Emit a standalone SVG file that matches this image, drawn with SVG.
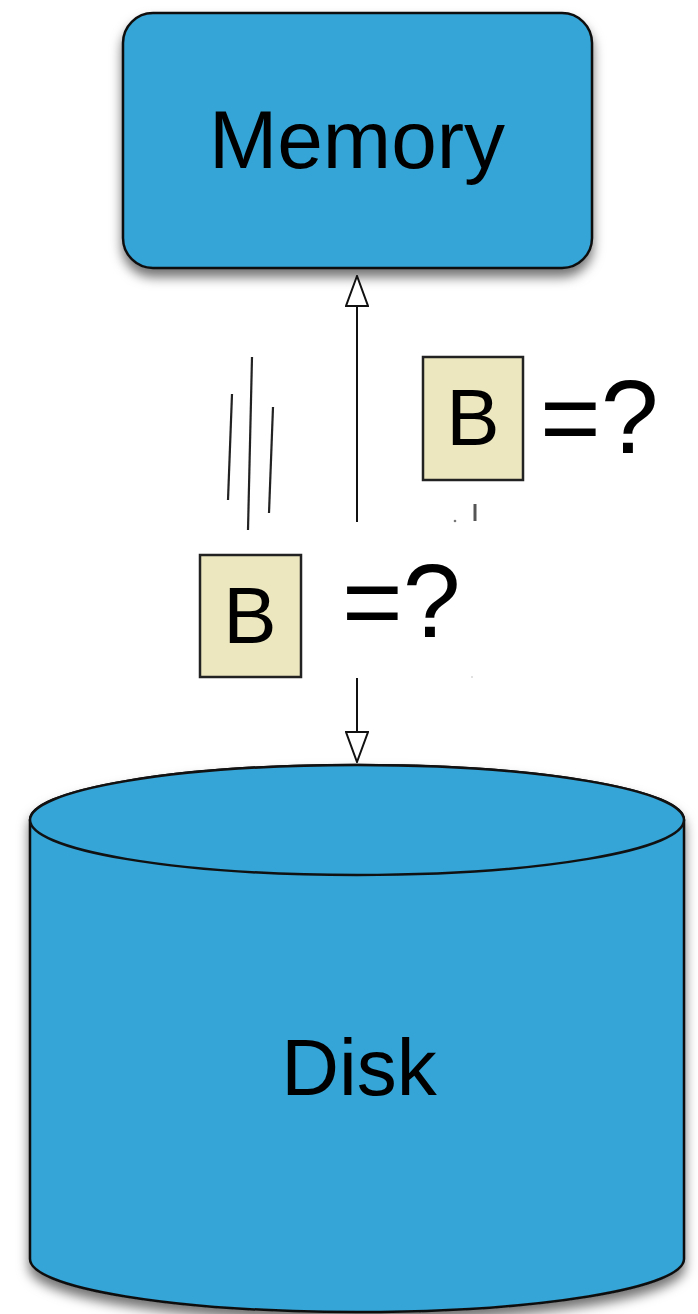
<svg xmlns="http://www.w3.org/2000/svg" width="698" height="1314" viewBox="0 0 698 1314">
<style>
.node{fill:#35A4D6;stroke:#111;stroke-width:2.5}
.lbl{font-family:"Liberation Sans",Arial,sans-serif;font-size:80px;fill:#000;text-anchor:middle}
.big{font-size:82px}
.eq{font-family:"Liberation Sans",Arial,sans-serif;font-size:104px;fill:#000}
.bbox{fill:#EDE7BF;stroke:#222;stroke-width:2.5}
.conn{stroke:#111;stroke-width:2;fill:none}
.mark{stroke:#222;stroke-width:2.2;fill:none}
</style>
<defs>
<filter id="sh" x="-10%" y="-10%" width="120%" height="130%">
<feDropShadow dx="0" dy="8" stdDeviation="6" flood-color="#000" flood-opacity="0.55"/>
</filter>
<marker id="ah" viewBox="0 0 32 24" refX="31" refY="12" markerWidth="32" markerHeight="24" markerUnits="userSpaceOnUse" orient="auto">
<path d="M31,12 L1,1 L1,23 Z" fill="#fff" stroke="#111" stroke-width="2"/>
</marker>
</defs>
<rect width="698" height="1314" fill="#fff"/>
<g id="memory">
<rect class="node" x="123" y="13" width="469" height="255" rx="30" ry="30" filter="url(#sh)"/>
<text class="lbl big" x="357" y="168">Memory</text>
</g>
<g id="disk">
<path class="node" filter="url(#sh)" d="M30,820 L30,1259 A327,53 0 0 0 684,1259 L684,820 A327,55 0 0 0 30,820 Z"/>
<ellipse class="node" cx="357" cy="820" rx="327" ry="55"/>
<text class="lbl" x="359" y="1095">Disk</text>
</g>
<g id="block-up">
<rect class="bbox" x="423" y="357" width="100" height="123"/>
<text class="lbl" x="473" y="445">B</text>
<text class="eq" x="540" y="453">=?</text>
</g>
<g id="block-down">
<rect class="bbox" x="200" y="555" width="101" height="122"/>
<text class="lbl" x="250" y="643">B</text>
<text class="eq" x="342" y="637">=?</text>
</g>
<g id="connectors">
<line class="conn" x1="357" y1="522" x2="357" y2="276" marker-end="url(#ah)"/>
<line class="conn" x1="357" y1="678" x2="357" y2="762" marker-end="url(#ah)"/>
</g>
<g id="motion-lines">
<line class="mark" x1="232" y1="394" x2="228" y2="500"/>
<line class="mark" x1="252" y1="357" x2="248" y2="530"/>
<line class="mark" x1="273" y1="407" x2="269" y2="513"/>
<line x1="475" y1="504" x2="475" y2="521" stroke="#555" stroke-width="3"/>
<circle cx="455" cy="521" r="1.3" fill="#777"/>
<circle cx="472" cy="677" r="0.8" fill="#bbb"/>
</g>
</svg>
